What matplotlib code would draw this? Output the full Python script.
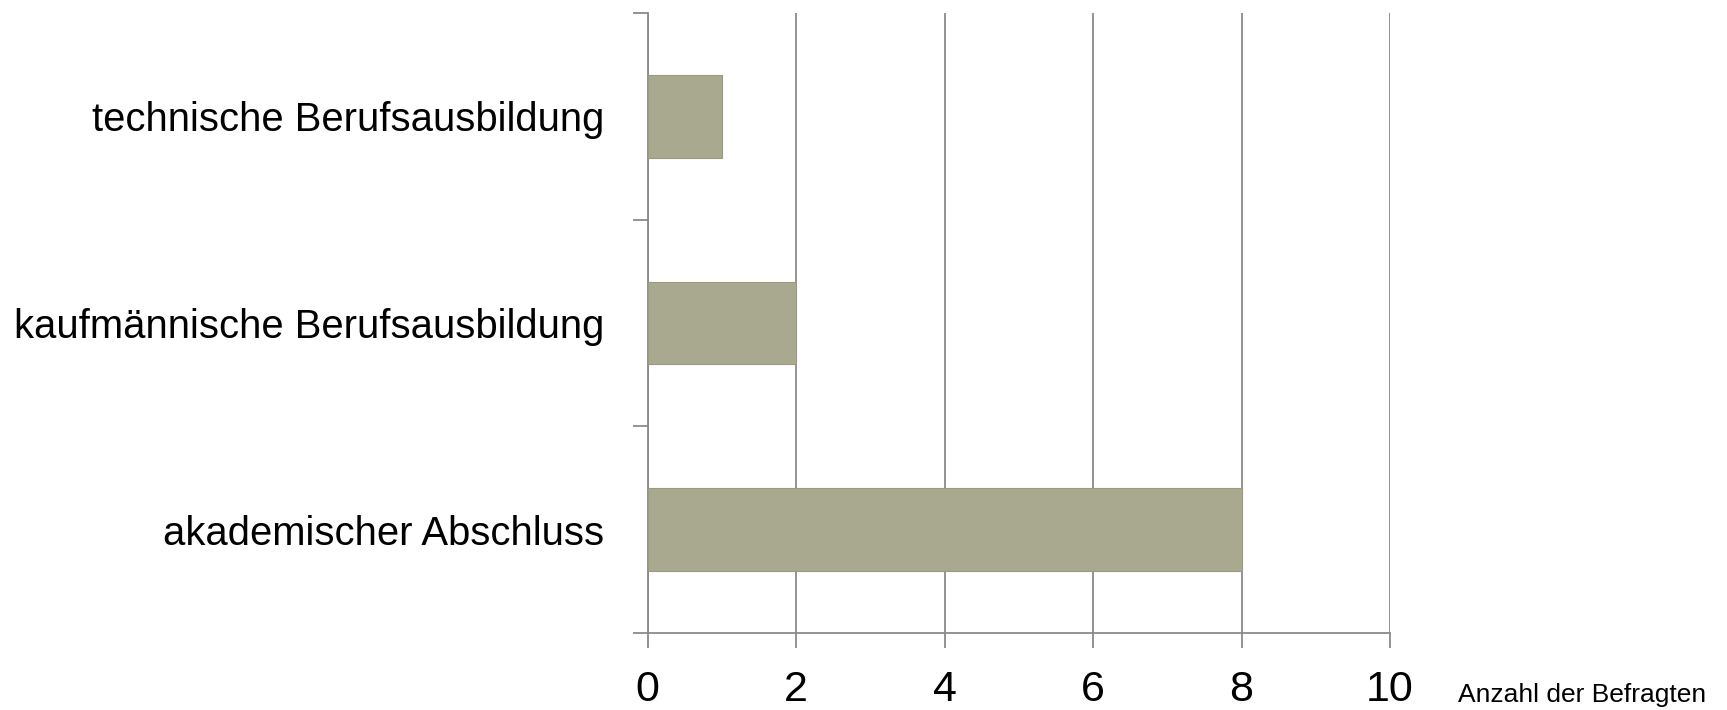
import numpy as np
import matplotlib.pyplot as plt
from matplotlib.ticker import FixedLocator

# ----------------------------
# DATA
# ----------------------------
categories = ["akademischer Abschluss", "kaufmännische Berufsausbildung", "technische Berufsausbildung"]
counts = [8, 2, 1]
x_ticks = [0, 2, 4, 6, 8, 10]
x_label = "Anzahl der Befragten"

BAR_COLOR = "#a9a98f"
LINE_COLOR = "#8a8a8a"
FONT = ["Liberation Sans Narrow", "Liberation Sans", "DejaVu Sans"]

plt.rcParams["font.family"] = FONT

fig = plt.figure(figsize=(17.27, 7.10), dpi=100)
ax = fig.add_axes([0.3750, 0.1085, 0.8049 - 0.3750, 0.9817 - 0.1085])

y = np.arange(len(categories))
ax.barh(y, counts, height=0.4, color=BAR_COLOR, edgecolor="#9a9a80", linewidth=0.8, zorder=3)

ax.set_xlim(0, 10)
ax.set_ylim(-0.5, len(categories) - 0.5)

ax.set_xticks(x_ticks)
ax.set_xticklabels([str(t) for t in x_ticks], fontsize=31)
ax.grid(axis="x", color=LINE_COLOR, linewidth=1.3, zorder=0)

# fit the category label size so the longest one is ~590 px wide like the reference
renderer = fig.canvas.get_renderer()
probe = fig.text(0, 0, max(categories, key=len), fontsize=36)
w = probe.get_window_extent(renderer).width
probe.remove()
label_size = 36 * 590 / w

# category labels at centres, ticks at boundaries
ax.set_yticks(y)
ax.set_yticklabels(categories, fontsize=label_size)
ax.yaxis.set_minor_locator(FixedLocator(np.arange(-0.5, len(categories), 1.0)))
ax.tick_params(axis="y", which="major", length=0, pad=31)
ax.tick_params(axis="y", which="minor", length=11, width=1.3, color=LINE_COLOR, direction="out")
ax.tick_params(axis="x", which="major", length=11, width=1.3, color=LINE_COLOR, direction="out", pad=16)

for side in ["top", "right"]:
    ax.spines[side].set_visible(False)
for side in ["left", "bottom"]:
    ax.spines[side].set_color(LINE_COLOR)
    ax.spines[side].set_linewidth(1.3)

fig.text(1458 / 1727, 1 - 702 / 710, x_label, fontsize=19, ha="left", va="baseline")

fig.savefig("out.png", dpi=100)
